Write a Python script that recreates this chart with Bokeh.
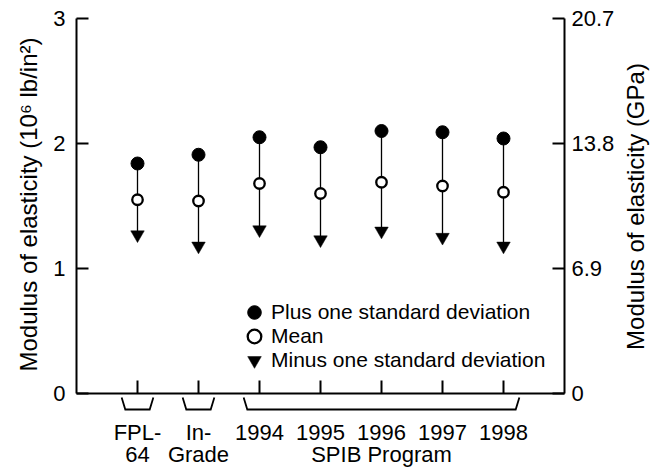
import math
from bokeh.plotting import figure
from bokeh.models import (Range1d, LinearAxis, FixedTicker, ColumnDataSource,
                          Legend, LegendItem, Label)
from bokeh.embed import file_html
from bokeh.resources import INLINE

# ---------------- data ----------------
categories = ["FPL-64", "In-Grade", "1994", "1995", "1996", "1997", "1998"]
tick_row1 = ["FPL-", "In-", "1994", "1995", "1996", "1997", "1998"]
tick_row2 = ["64", "Grade", "", "", "SPIB Program", "", ""]
plus_sd = [1.84, 1.91, 2.05, 1.97, 2.10, 2.09, 2.04]
mean_vals = [1.55, 1.54, 1.68, 1.60, 1.69, 1.66, 1.61]
minus_sd = [1.27, 1.18, 1.31, 1.23, 1.30, 1.25, 1.18]
groups = [(1, 1), (2, 2), (3, 7)]  # first/last category position under each bracket
y_ticks = [0, 1, 2, 3]
gpa_ticks = [0, 6.9, 13.8, 20.7]
gpa_labels = ["0", "6.9", "13.8", "20.7"]
legend_labels = ["Plus one standard deviation", "Mean", "Minus one standard deviation"]
left_title = "Modulus of elasticity (10\u2076 lb/in\u00b2)"
right_title = "Modulus of elasticity (GPa)"

FONT = "Liberation Sans"
TICK_FS = "22px"
W, H = 659, 470
AX_LEFT_PX, AX_TOP_PX = 76, 18      # pixel position of the plot box corner
PX_X, PX_Y = 61, 125                # pixels per data unit
n = len(categories)
xs = list(range(1, n + 1))
x_hi = n + 1
y_hi = y_ticks[-1]
ratio = gpa_ticks[-1] / y_hi

x_range = Range1d(-AX_LEFT_PX / PX_X, (W - AX_LEFT_PX) / PX_X)
y_range = Range1d(y_hi - (H - AX_TOP_PX) / PX_Y, y_hi + AX_TOP_PX / PX_Y)

p = figure(width=W, height=H, x_range=x_range, y_range=y_range,
           x_axis_location=None, y_axis_location=None,
           output_backend="svg", toolbar_location=None,
           min_border=0, outline_line_color=None, background_fill_color="white")
p.grid.visible = False
p.extra_y_ranges = {"gpa": Range1d(y_range.start * ratio, y_range.end * ratio)}


def style(ax):
    ax.axis_line_width = 2
    ax.axis_line_color = "black"
    ax.major_tick_line_width = 2
    ax.major_tick_line_color = "black"
    ax.major_tick_out = 0
    ax.minor_tick_line_color = None
    ax.major_label_text_font = FONT
    ax.major_label_text_font_size = TICK_FS
    ax.major_label_text_color = "black"


left = LinearAxis(fixed_location=0, ticker=FixedTicker(ticks=y_ticks),
                  bounds=(y_ticks[0], y_hi),
                  major_label_overrides={t: str(t) for t in y_ticks})
style(left)
left.major_tick_in = 12
left.major_label_standoff = 11
p.add_layout(left, "left")

right = LinearAxis(fixed_location=x_hi, y_range_name="gpa",
                   ticker=FixedTicker(ticks=gpa_ticks),
                   bounds=(gpa_ticks[0], gpa_ticks[-1]),
                   major_label_overrides=dict(zip(gpa_ticks, gpa_labels)))
style(right)
right.major_tick_in = 12
right.major_label_standoff = 7
p.add_layout(right, "right")

row1 = LinearAxis(fixed_location=0, ticker=FixedTicker(ticks=xs), bounds=(0, x_hi),
                  major_label_overrides=dict(zip(xs, tick_row1)))
style(row1)
row1.major_tick_in = 13
row1.major_label_standoff = 26
p.add_layout(row1, "below")

row2 = LinearAxis(fixed_location=0, ticker=FixedTicker(ticks=xs), bounds=(0, x_hi),
                  major_label_overrides=dict(zip(xs, tick_row2)))
style(row2)
row2.axis_line_color = None
row2.major_tick_line_color = None
row2.major_tick_in = 0
row2.major_label_standoff = 48
p.add_layout(row2, "below")

# axis titles (both read bottom-to-top)
for txt, cx, cy in [(left_title, 28, 204), (right_title, 635, 206)]:
    p.add_layout(Label(x=cx, y=H - cy, x_units="screen", y_units="screen",
                       text=txt, angle=math.pi / 2,
                       text_align="center", text_baseline="middle",
                       text_font=FONT, text_font_size="24px", text_color="black"))

# group brackets under the axis
top_pad, bot_pad = 0.26, 0.2
y_top, y_bot = -0.032, -0.128
bx = [[a - top_pad, a - bot_pad, b + bot_pad, b + top_pad] for a, b in groups]
by = [[y_top, y_bot, y_bot, y_top] for _ in groups]
p.multi_line(xs=bx, ys=by, line_color="black", line_width=1.8, line_join="miter")

src = ColumnDataSource(dict(x=xs, plus=plus_sd, mean=mean_vals, minus=minus_sd))
p.segment(x0="x", y0="plus", x1="x", y1="minus", source=src,
          line_color="black", line_width=1.3)
r_plus = p.scatter("x", "plus", source=src, marker="circle", size=13,
                   fill_color="black", line_color="black")
r_mean = p.scatter("x", "mean", source=src, marker="circle", size=10.5,
                   fill_color="white", line_color="black", line_width=2.3)
r_minus = p.scatter("x", "minus", source=src, marker="inverted_triangle", size=13.5,
                    fill_color="black", line_color="black", line_width=0.5)

# one single-row legend per entry so rows can sit closer than the glyph box
row_centers = [312, 336, 360]
GLYPH = 34
for lab, rend, cy in zip(legend_labels, [r_plus, r_mean, r_minus], row_centers):
    leg = Legend(items=[LegendItem(label=lab, renderers=[rend])],
                 location=(237, H - (cy + GLYPH // 2)),
                 padding=0, margin=0, spacing=0,
                 glyph_width=GLYPH, glyph_height=GLYPH, label_standoff=0,
                 border_line_color=None, background_fill_alpha=0,
                 label_text_font=FONT, label_text_font_size="21px",
                 label_text_color="black")
    p.add_layout(leg, "center")

open("out.html", "w").write(file_html(p, INLINE))
